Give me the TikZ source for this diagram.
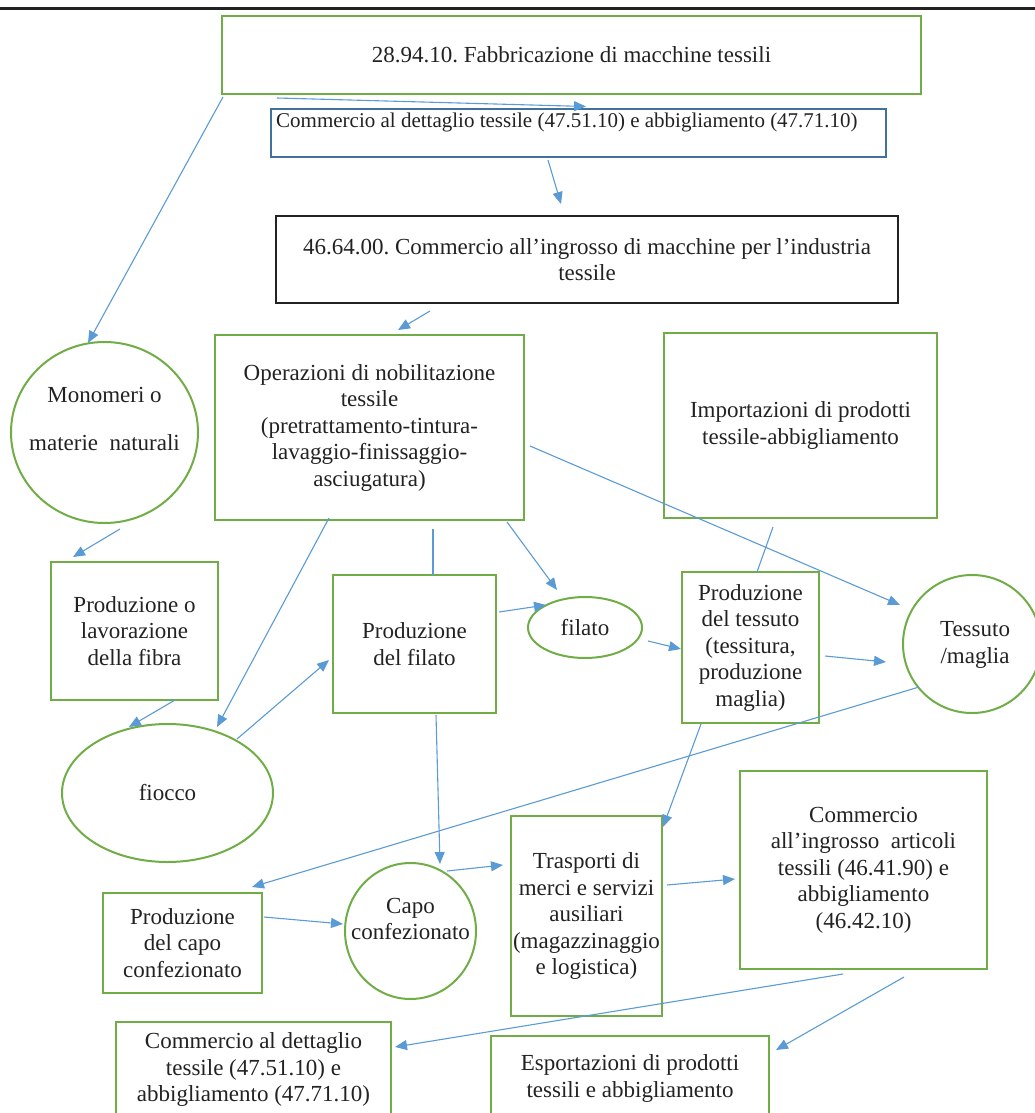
\documentclass[tikz,border=0pt]{standalone}
\usepackage{fontspec}
\setmainfont{Liberation Serif}
\usetikzlibrary{arrows.meta,shapes.geometric}
\definecolor{gr}{HTML}{70AD47}
\definecolor{ab}{HTML}{5B9BD5}
\definecolor{bb}{HTML}{41719C}
\definecolor{tx}{HTML}{222222}
\frenchspacing
\begin{document}
\begin{tikzpicture}[x=1pt,y=-1pt,
  font=\fontsize{23}{26.5}\selectfont, text=tx,
  gbox/.style={draw=gr, line width=2pt, rectangle, inner sep=0pt, align=center},
  gell/.style={draw=gr, line width=2pt, ellipse, inner sep=0pt, align=center},
  lbl/.style={inner sep=0pt, align=center},
  arr/.style={draw=ab, line width=1.1pt, -{Triangle[length=12pt,width=10pt]}},
  ln/.style={draw=ab, line width=1.1pt}]
\useasboundingbox (0,0) rectangle (1035,1113);
\clip (0,0) rectangle (1035,1113);
\draw[tx, line width=3pt] (0,8.5) -- (1035,8.5);

% nodes
\node[gbox, minimum width=699, minimum height=78] (top) at (571.5,55) {28.94.10. Fabbricazione di macchine tessili};
\node[draw=bb, line width=2pt, rectangle, inner sep=0pt, minimum width=615, minimum height=48] (retail1) at (578.5,133) {};
\node[lbl, anchor=west, font=\fontsize{21}{24}\selectfont] (retail1t) at (276,122) {Commercio al dettaglio tessile (47.51.10) e abbigliamento (47.71.10)};
\node[draw=tx, line width=2.5pt, rectangle, inner sep=0pt, align=center, minimum width=622, minimum height=87] (ingr) at (587,259.5) {46.64.00. Commercio all’ingrosso di macchine per l’industria\\tessile};
\node[gbox, minimum width=309, minimum height=185] (oper) at (369.5,427.5) {Operazioni di nobilitazione\\tessile\\(pretrattamento-tintura-\\lavaggio-finissaggio-\\asciugatura)};
\node[gell, minimum width=187, minimum height=181] (mono) at (104.5,432.5) {};
\node[lbl] (monot) at (104.5,419) {Monomeri o\\[21pt]materie\ \ naturali};
\node[gbox, minimum width=167, minimum height=138] (fibra) at (134.5,631) {Produzione o\\lavorazione\\della fibra};
\node[gbox, minimum width=273, minimum height=185] (imp) at (800.5,425.5) {Importazioni di prodotti\\tessile-abbigliamento};
\node[gbox, minimum width=137, minimum height=151] (tess) at (750.5,647.5) {Produzione\\del tessuto\\(tessitura,\\produzione\\maglia)};
\node[gell, minimum width=138, minimum height=138] (tessuto) at (972,644) {};
\node[lbl] (tessutot) at (975,645) {Tessuto\\/maglia};
\node[gbox, minimum width=163, minimum height=138] (filbox) at (414.5,644) {Produzione\\del filato};
\node[gell, minimum width=114, minimum height=61] (filato) at (585,627.5) {filato};
\node[gell, minimum width=211, minimum height=138] (fiocco) at (167.5,793) {fiocco};
\node[gell, minimum width=131, minimum height=136] (capo) at (410.5,931) {};
\node[lbl] (capot) at (410.5,919) {Capo\\confezionato};
\node[gbox, minimum width=159, minimum height=100] (capobox) at (182.5,943) {Produzione\\del capo\\confezionato};
\node[gbox, minimum width=151, minimum height=200] (trasp) at (586.5,916) {Trasporti di\\merci e servizi\\ausiliari\\(magazzinaggio\\e logistica)};
\node[gbox, minimum width=247, minimum height=198] (ingross) at (863.5,870) {Commercio\\all’ingrosso\ \ articoli\\tessili (46.41.90) e\\abbigliamento\\(46.42.10)};
\node[gbox, minimum width=275, minimum height=95] (dett) at (253.5,1069.5) {Commercio al dettaglio\\tessile (47.51.10) e\\abbigliamento (47.71.10)};
\node[gbox, minimum width=278, minimum height=85] (esp) at (630,1078.5) {Esportazioni di prodotti\\tessili e abbigliamento};

% connector end points
\coordinate (top-r) at (277,98);   \coordinate (retail1-in) at (586,106.5);
\coordinate (top-l) at (223,97);   \coordinate (mono-in) at (88,343);
\coordinate (retail1-o) at (548,160); \coordinate (ingr-in) at (561,204);
\coordinate (ingr-o) at (430,311); \coordinate (oper-in) at (398,330);
\coordinate (mono-o) at (120,529); \coordinate (fibra-in) at (73,557);
\coordinate (oper-r) at (530,446); \coordinate (tessuto-in1) at (900,605);
\coordinate (imp-o) at (773,527);  \coordinate (tess-top) at (757,572);
\coordinate (oper-l) at (329,518); \coordinate (fiocco-in1) at (217,727);
\coordinate (oper-m) at (433,529); \coordinate (filbox-top) at (433,575);
\coordinate (oper-b) at (507,522); \coordinate (filato-in1) at (557,590);
\coordinate (filbox-r) at (499,612); \coordinate (filato-in2) at (546,605);
\coordinate (filato-o) at (648,641); \coordinate (tess-in) at (681,649);
\coordinate (tess-r) at (825,656); \coordinate (tessuto-in2) at (886,662);
\coordinate (tessuto-o) at (919,687); \coordinate (capobox-in) at (252,887);
\coordinate (fibra-o) at (175,700); \coordinate (fiocco-in2) at (129,727);
\coordinate (fiocco-o) at (237,739); \coordinate (filbox-in) at (329,660);
\coordinate (filbox-b) at (436,715); \coordinate (capo-in1) at (440,864);
\coordinate (capobox-o) at (264,917); \coordinate (capo-in2) at (343,924);
\coordinate (capo-o) at (447,871); \coordinate (trasp-in1) at (503,865);
\coordinate (tess-b) at (701,724); \coordinate (trasp-in2) at (663,827);
\coordinate (trasp-o) at (667,885); \coordinate (ingross-in) at (735,879);
\coordinate (ingross-o1) at (843,974); \coordinate (dett-in) at (395,1047);
\coordinate (ingross-o2) at (904,977); \coordinate (esp-in) at (776,1050);

% connectors
\draw[arr] (top-r) -- (retail1-in);
\draw[arr] (top-l) -- (mono-in);
\draw[arr] (retail1-o) -- (ingr-in);
\draw[arr] (ingr-o) -- (oper-in);
\draw[arr] (mono-o) -- (fibra-in);
\draw[arr] (oper-r) -- (tessuto-in1);
\draw[ln] (imp-o) -- (tess-top);
\draw[arr] (oper-l) -- (fiocco-in1);
\draw[ln] (oper-m) -- (filbox-top);
\draw[arr] (oper-b) -- (filato-in1);
\draw[arr] (filbox-r) -- (filato-in2);
\draw[arr] (filato-o) -- (tess-in);
\draw[arr] (tess-r) -- (tessuto-in2);
\draw[arr] (tessuto-o) -- (capobox-in);
\draw[arr] (fibra-o) -- (fiocco-in2);
\draw[arr] (fiocco-o) -- (filbox-in);
\draw[arr] (filbox-b) -- (capo-in1);
\draw[arr] (capobox-o) -- (capo-in2);
\draw[arr] (capo-o) -- (trasp-in1);
\draw[arr] (tess-b) -- (trasp-in2);
\draw[arr] (trasp-o) -- (ingross-in);
\draw[arr] (ingross-o1) -- (dett-in);
\draw[arr] (ingross-o2) -- (esp-in);
\end{tikzpicture}
\end{document}
